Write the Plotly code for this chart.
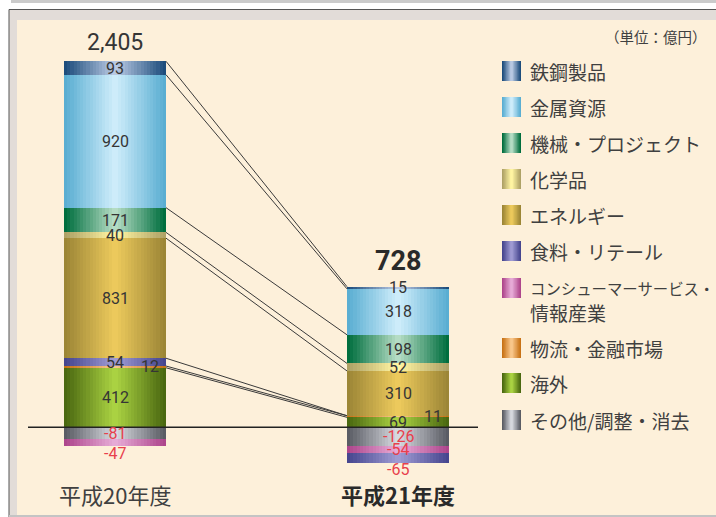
import plotly.graph_objects as go

# ---------------- data ----------------
periods = ["平成20年度", "平成21年度"]
period_totals = ["2,405", "728"]
unit_label = "（単位：億円）"

categories = [
    "鉄鋼製品",
    "金属資源",
    "機械・プロジェクト",
    "化学品",
    "エネルギー",
    "食料・リテール",
    "コンシューマーサービス・<br>情報産業",
    "物流・金融市場",
    "海外",
    "その他/調整・消去",
]
fy20_values = [93, 920, 171, 40, 831, 54, -47, 12, 412, -81]
fy21_values = [15, 318, 198, 52, 310, -65, -54, 11, 69, -126]
series_values = [fy20_values, fy21_values]

# gradient colours per category: (edge, centre)
cat_colors = [
    ("#1d4d7c", "#b8c8e2"),
    ("#5aaed2", "#cdecfa"),
    ("#006e3e", "#b4dcc4"),
    ("#aea266", "#fff4a2"),
    ("#9c8636", "#ecc95c"),
    ("#46468f", "#9e9ad2"),
    ("#ae468c", "#e6aad6"),
    ("#c87216", "#f8c68a"),
    ("#4a6810", "#aad242"),
    ("#5a5c64", "#d6d8de"),
]

# stacking order (positives bottom-up, negatives top-down from zero)
pos_order = [8, 7, 5, 4, 3, 2, 1, 0]
neg_order = [9, 6, 5]

# ---------------- geometry ----------------
W_PX, H_PX = 716, 517
def px(x):
    return x / W_PX
def py(y):
    return 1 - y / H_PX

PX_PER_X = 283.0
X0_PX = 115.0
ZERO_PX = 427.3
PX_PER_Y = 0.1445
x_range = [-X0_PX / PX_PER_X, (W_PX - X0_PX) / PX_PER_X]
y_range = [-(H_PX - ZERO_PX) / PX_PER_Y, ZERO_PX / PX_PER_Y]
BAR_W = 102 / PX_PER_X


def stack(values):
    bases = [0.0] * len(values)
    top = 0.0
    for i in pos_order:
        if values[i] > 0:
            bases[i] = top
            top += values[i]
    bot = 0.0
    for i in neg_order:
        if values[i] < 0:
            bases[i] = bot
            bot += values[i]
    return bases


def cum_tops(values):
    tops = {}
    t = 0.0
    for i in pos_order:
        t += max(values[i], 0)
        tops[i] = t
    return tops


def hex2rgb(h):
    h = h.lstrip("#")
    return tuple(int(h[k:k + 2], 16) for k in (0, 2, 4))


def lerp(c1, c2, t):
    a, b = hex2rgb(c1), hex2rgb(c2)
    return "rgb(%d,%d,%d)" % tuple(round(a[k] + (b[k] - a[k]) * t) for k in range(3))


fig = go.Figure()

# ---------------- bars (gradient via nested layers) ----------------
N_LAYERS = 16
seg_x, seg_y, seg_base, seg_cat = [], [], [], []
for p, vals in enumerate(series_values):
    bases = stack(vals)
    for i, v in enumerate(vals):
        seg_x.append(p)
        seg_y.append(v)
        seg_base.append(bases[i])
        seg_cat.append(i)

for k in range(N_LAYERS):
    t = k / (N_LAYERS - 1)
    w = BAR_W * (1 - k / N_LAYERS)
    fig.add_trace(go.Bar(
        x=seg_x, y=seg_y, base=seg_base,
        width=[w] * len(seg_x),
        marker=dict(color=[lerp(cat_colors[c][0], cat_colors[c][1], t) for c in seg_cat],
                    line=dict(width=0)),
        showlegend=False, hoverinfo="skip",
    ))

# ---------------- connector lines ----------------
left_tops = cum_tops(fy20_values)
right_tops = cum_tops(fy21_values)
for i in pos_order:
    fig.add_trace(go.Scatter(
        x=[0 + BAR_W / 2, 1 - BAR_W / 2], y=[left_tops[i], right_tops[i]],
        mode="lines", line=dict(color="#3a3a3a", width=1),
        showlegend=False, hoverinfo="skip",
    ))

annotations = []
NUM_FONT = "Roboto, 'Noto Sans CJK JP', sans-serif"
JP_FONT = "'Noto Sans CJK JP', sans-serif"

# ---------------- value labels ----------------
for p, vals in enumerate(series_values):
    bases = stack(vals)
    bottom_neg = min(bases[i] + vals[i] for i in range(len(vals)))
    for i, v in enumerate(vals):
        yc = bases[i] + v / 2
        xshift, yshift = 0, 0
        if i == 7:  # thin orange band, label to the right
            xshift = 35
        if v < 0 and abs(bases[i] + v - bottom_neg) < 1e-6:
            yshift = -11
        annotations.append(dict(
            x=p, y=yc, xref="x", yref="y", text=str(v), showarrow=False,
            xshift=xshift, yshift=yshift,
            font=dict(family=NUM_FONT, size=16, color="#e8404c" if v < 0 else "#353535"),
        ))

# totals
annotations.append(dict(x=0, y=py(42), xref="x", yref="paper", text=period_totals[0],
                        showarrow=False, yanchor="middle",
                        font=dict(family=NUM_FONT, size=23, color="#353535")))
annotations.append(dict(x=1, y=py(261), xref="x", yref="paper", text="<b>%s</b>" % period_totals[1],
                        showarrow=False, yanchor="middle",
                        font=dict(family=NUM_FONT, size=27, color="#2a2a2a")))

# period labels
annotations.append(dict(x=0, y=py(494), xref="x", yref="paper", text=periods[0],
                        showarrow=False, yanchor="middle",
                        font=dict(family=JP_FONT, size=22, color="#404040")))
annotations.append(dict(x=1, y=py(494), xref="x", yref="paper", text="<b>%s</b>" % periods[1],
                        showarrow=False, yanchor="middle",
                        font=dict(family=JP_FONT, size=22, color="#2a2a2a")))

# unit
annotations.append(dict(x=px(709), y=py(36), xref="paper", yref="paper", text=unit_label,
                        showarrow=False, xanchor="right", yanchor="middle",
                        font=dict(family=JP_FONT, size=14.5, color="#404040")))

# ---------------- frame shapes ----------------
shapes = [
    dict(type="rect", xref="paper", yref="paper", x0=px(11), x1=px(716), y0=py(0), y1=py(3),
         fillcolor="#cbcbcb", line=dict(width=0), layer="below"),
    dict(type="rect", xref="paper", yref="paper", x0=px(9), x1=px(730), y0=py(9.5), y1=py(530),
         fillcolor="#e2dcd8", line=dict(color="#555555", width=1), layer="below"),
    dict(type="rect", xref="paper", yref="paper", x0=px(17), x1=px(716), y0=py(20), y1=py(515),
         fillcolor="#fdf0da", line=dict(width=0), layer="below"),
    dict(type="rect", xref="paper", yref="paper", x0=px(9), x1=px(716), y0=py(515), y1=py(517),
         fillcolor="#c4c4c4", line=dict(width=0), layer="below"),
    # zero line
    dict(type="line", xref="paper", yref="y", x0=px(28), x1=px(478), y0=0, y1=0,
         line=dict(color="#222222", width=1.4), layer="above"),
]

# ---------------- legend (manual) ----------------
legend_rows = [71, 107, 143, 179, 215, 251, 288, 348, 383, 420]
SW_X0, SW_X1, SW_H = 502, 521, 20
LEG_SIZE = 19
for i, name in enumerate(categories):
    yc = legend_rows[i]
    edge, centre = cat_colors[i]
    n = 7
    for k in range(n):
        t = k / (n - 1)
        half = (SW_X1 - SW_X0) / 2 * (1 - k / n)
        cx = (SW_X0 + SW_X1) / 2
        shapes.append(dict(type="rect", xref="paper", yref="paper",
                           x0=px(cx - half), x1=px(cx + half),
                           y0=py(yc - SW_H / 2), y1=py(yc + SW_H / 2),
                           fillcolor=lerp(edge, centre, t), line=dict(width=0), layer="above"))
    lines = name.split("<br>")
    for j, line in enumerate(lines):
        size = LEG_SIZE
        if len(lines) > 1 and j == 0:
            size = 15.4  # long first line compressed to fit
        annotations.append(dict(x=px(528), y=py(yc + 24 * j), xref="paper", yref="paper", text=line,
                                showarrow=False, xanchor="left", yanchor="middle", align="left",
                                font=dict(family=JP_FONT, size=size, color="#404040")))

fig.update_layout(
    width=W_PX, height=H_PX,
    margin=dict(l=0, r=0, t=0, b=0),
    paper_bgcolor="#ffffff", plot_bgcolor="rgba(0,0,0,0)",
    barmode="overlay", bargap=0,
    showlegend=False,
    xaxis=dict(range=x_range, domain=[0, 1], visible=False, fixedrange=True),
    yaxis=dict(range=y_range, domain=[0, 1], visible=False, fixedrange=True),
    shapes=shapes, annotations=annotations,
)

fig.write_html("out.html", config={"displayModeBar": False},
               post_script="document.body.style.margin='0';document.body.style.overflow='hidden';")
